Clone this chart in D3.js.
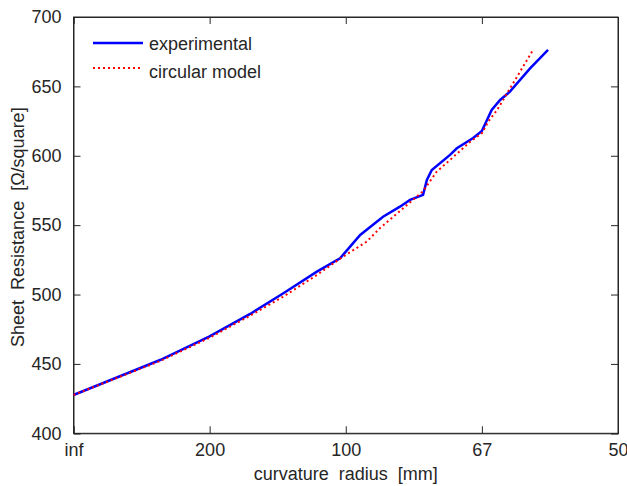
<!DOCTYPE html>
<html>
<head>
<meta charset="utf-8">
<script src="https://cdn.jsdelivr.net/npm/d3@7"></script>
<style>
  body { margin: 0; background: #fff; }
  svg text { font-family: "Liberation Sans", Arial, sans-serif; fill: #262626; white-space: pre; }
</style>
</head>
<body>
<svg id="chart" width="627" height="486"></svg>
<script>
// curvature 1/r in 1/m, ticks labelled with the radius in mm
var curvTicks = [0, 5, 10, 15, 20];
var radiusLabels = ["inf", "200", "100", "67", "50"];
var resTicks = [400, 450, 500, 550, 600, 650, 700];

// experimental curve
var expCurv = [0, 1.5, 3.18, 4.98, 6.49, 7.71, 8.94, 9.79, 10.16, 10.53, 11.37, 11.99, 12.36, 12.84,
               12.98, 13.16, 13.83, 14.08, 14.68, 15.0, 15.36, 15.67, 16.03, 16.77, 17.43];
var expRes  = [427.6, 439.5, 452.8, 469.6, 486.0, 500.9, 516.5, 526.1, 534.5, 542.9, 556.1, 563.3, 568.2, 571.8,
               582.6, 589.8, 600.6, 605.4, 612.8, 617.9, 633.0, 640.2, 646.2, 663.0, 676.3];

// circular model
var modelCurv = [0, 3.18, 4.98, 6.49, 7.70, 8.94, 9.90, 10.77, 11.26, 11.99, 12.84, 13.34, 13.83, 14.57,
                 15.0, 15.23, 15.56, 15.93, 16.22, 16.88];
var modelRes  = [427.6, 452.1, 468.7, 484.8, 498.4, 514.1, 527.3, 538.1, 547.9, 560.2, 574.5, 588.5, 597.0, 610.1,
                 616.2, 624.5, 633.0, 645.2, 654.6, 676.3];

var svg = d3.select("#chart");
var plotLeft = 73.5, plotRight = 618, plotTop = 17, plotBottom = 433.3;

var x = d3.scaleLinear().domain([0, 20]).range([plotLeft, plotRight]);
var y = d3.scaleLinear().domain([400, 700]).range([plotBottom, plotTop]);
var tickLen = 7;

// axes
svg.append("g").attr("transform", "translate(0," + plotBottom + ")")
    .call(d3.axisBottom(x).tickValues(curvTicks).tickSize(-tickLen).tickPadding(10)
        .tickFormat(function(d, i){ return radiusLabels[i]; }));
svg.append("g").attr("transform", "translate(0," + plotTop + ")")
    .call(d3.axisTop(x).tickValues(curvTicks).tickSize(-tickLen).tickFormat(""));
svg.append("g").attr("transform", "translate(" + plotLeft + ",0)")
    .call(d3.axisLeft(y).tickValues(resTicks).tickSize(-tickLen).tickPadding(12));
svg.append("g").attr("transform", "translate(" + plotRight + ",0)")
    .call(d3.axisRight(y).tickValues(resTicks).tickSize(-tickLen).tickFormat(""));

svg.selectAll(".domain").attr("stroke", "#262626");
svg.selectAll(".tick line").attr("stroke", "#262626");
svg.selectAll(".tick text").style("font-size", "18px").attr("fill", "#262626");

svg.append("rect")
    .attr("x", plotLeft).attr("y", plotTop)
    .attr("width", plotRight - plotLeft).attr("height", plotBottom - plotTop)
    .attr("fill", "none").attr("stroke", "#262626");

// lines
var line = d3.line().x(function(d){ return x(d[0]); }).y(function(d){ return y(d[1]); });

svg.append("path")
    .datum(d3.zip(expCurv, expRes))
    .attr("d", line)
    .attr("fill", "none").attr("stroke", "#0000ff").attr("stroke-width", 2.5);

svg.append("path")
    .datum(d3.zip(modelCurv, modelRes))
    .attr("d", line)
    .attr("fill", "none").attr("stroke", "#ff0000").attr("stroke-width", 2)
    .attr("stroke-dasharray", "2,3");

// legend
var legend = svg.append("g");
legend.append("line").attr("x1", 93).attr("x2", 143).attr("y1", 43).attr("y2", 43)
    .attr("stroke", "#0000ff").attr("stroke-width", 2.5);
legend.append("text").attr("x", 149).attr("y", 50).style("font-size", "18px").text("experimental");
legend.append("line").attr("x1", 93).attr("x2", 143).attr("y1", 68).attr("y2", 68)
    .attr("stroke", "#ff0000").attr("stroke-width", 2).attr("stroke-dasharray", "2,3");
legend.append("text").attr("x", 149).attr("y", 78).style("font-size", "18px").text("circular model");

// axis titles
svg.append("text")
    .attr("x", (plotLeft + plotRight) / 2).attr("y", 480)
    .attr("text-anchor", "middle").style("font-size", "18px")
    .text("curvature  radius  [mm]");

svg.append("text")
    .attr("transform", "translate(24," + ((plotTop + plotBottom) / 2 + 2) + ") rotate(-90)")
    .attr("text-anchor", "middle").style("font-size", "18px")
    .text("Sheet  Resistance  [\u03A9/square]");
</script>
</body>
</html>
